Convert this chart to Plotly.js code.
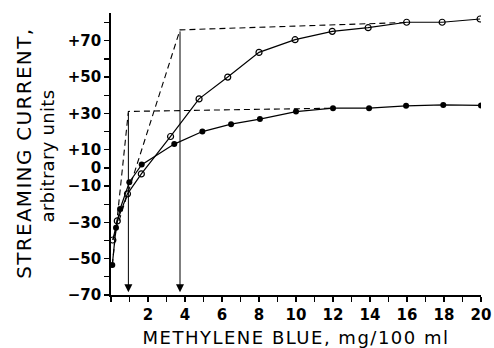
<!DOCTYPE html>
<html>
<head>
<meta charset="utf-8">
<script src="https://cdn.plot.ly/plotly-3.0.1.min.js"></script>
<style>
  html, body { margin: 0; padding: 0; background: #fff; }
  #chart { width: 494px; height: 348px; }
  #chart .xtitle { letter-spacing: 1.5px; }
  #chart g.annotation[data-index="2"] text { letter-spacing: 1.3px; }
  #chart g.annotation[data-index="3"] text { letter-spacing: 0.3px; }
</style>
</head>
<body>
<div id="chart"></div>
<script>
// ---- data ----
const openX  = [0.10, 0.34, 0.89, 1.64, 3.22, 4.76, 6.31, 8.0, 9.95, 11.96, 13.9, 15.98, 17.9, 19.95];
const openY  = [-39.7, -29.2, -14.3, -3.3, 17.3, 38.0, 50.0, 63.6, 70.6, 75.2, 77.2, 80.2, 80.2, 82.0];

const filledX = [0.07, 0.27, 0.49, 0.99, 1.66, 3.42, 4.94, 6.49, 8.05, 10.0, 12.0, 13.95, 15.95, 17.96, 20.0];
const filledY = [-53.5, -32.9, -22.6, -7.9, 1.8, 13.1, 20.0, 24.1, 26.9, 31.0, 32.9, 32.9, 34.2, 34.7, 34.4];

// dashed construction lines (tangent + plateau)
const openTangentX = [0.10, 3.73, 16.0];
const openTangentY = [-39.7, 76.0, 80.1];
const filledTangentX = [0.07, 0.94, 12.0];
const filledTangentY = [-53.5, 31.1, 32.9];

// vertical arrows marking the intersections
const arrowX = [0.94, 3.73];
const arrowTopY = [31.1, 76.0];
const arrowBottomY = -70;

// axis ticks
const yTickVals = [-70, -60, -50, -40, -30, -20, -10, 0, 10, 20, 30, 40, 50, 60, 70, 80];
const yTickText = ['\u221270', '', '\u221250', '', '\u221230', '', '\u221210', '0', '+10', '', '+30', '', '+50', '', '+70', ''];
const xTickVals = [0,1,2,3,4,5,6,7,8,9,10,11,12,13,14,15,16,17,18,19,20];
const xTickText = ['', '', '2', '', '4', '', '6', '', '8', '', '10', '', '12', '', '14', '', '16', '', '18', '', '20'];

const xTitle = 'METHYLENE BLUE, mg/100 ml';
const yTitle1 = 'STREAMING CURRENT,';
const yTitle2 = 'arbitrary units';

// ---- traces ----
const traces = [
  { x: openTangentX, y: openTangentY, mode: 'lines', type: 'scatter',
    line: { color: '#000', width: 1.1, dash: '6px,4px' }, hoverinfo: 'skip', showlegend: false },
  { x: filledTangentX, y: filledTangentY, mode: 'lines', type: 'scatter',
    line: { color: '#000', width: 1.1, dash: '6px,4px' }, hoverinfo: 'skip', showlegend: false },
  { x: openX, y: openY, mode: 'lines+markers', type: 'scatter',
    line: { color: '#000', width: 1.2 },
    marker: { symbol: 'circle-open', size: 6, color: '#000', line: { color: '#000', width: 1.2 } },
    showlegend: false },
  { x: filledX, y: filledY, mode: 'lines+markers', type: 'scatter',
    line: { color: '#000', width: 1.2 },
    marker: { symbol: 'circle', size: 6, color: '#000' },
    showlegend: false }
];

const annotations = arrowX.map((xv, i) => ({
  x: xv, y: arrowBottomY + 1.5, ax: xv, ay: arrowTopY[i],
  xref: 'x', yref: 'y', axref: 'x', ayref: 'y',
  text: '', showarrow: true, arrowhead: 2, arrowsize: 1.6, arrowwidth: 1, arrowcolor: '#000', standoff: 0
}));

annotations.push({
  xref: 'paper', yref: 'paper', x: -0.235, y: 0.5035, xanchor: 'center', yanchor: 'middle',
  text: yTitle1, showarrow: false, textangle: -90,
  font: { family: 'DejaVu Sans', size: 20, color: '#000' }
});
annotations.push({
  xref: 'paper', yref: 'paper', x: -0.171, y: 0.491, xanchor: 'center', yanchor: 'middle',
  text: yTitle2, showarrow: false, textangle: -90,
  font: { family: 'DejaVu Sans', size: 18, color: '#000' }
});

const layout = {
  width: 494, height: 348,
  margin: { l: 111, r: 13, t: 13, b: 53 },
  paper_bgcolor: '#fff', plot_bgcolor: '#fff',
  showlegend: false,
  xaxis: {
    range: [0, 20], showgrid: false, zeroline: false,
    showline: true, linecolor: '#000', linewidth: 1.8,
    tickmode: 'array', tickvals: xTickVals, ticktext: xTickText,
    ticks: 'outside', ticklen: 5, tickwidth: 1.3, tickcolor: '#000',
    tickfont: { family: 'DejaVu Sans', size: 15, color: '#000', weight: 'bold' },
    title: { text: xTitle, font: { family: 'DejaVu Sans', size: 18, color: '#000' }, standoff: 9 }
  },
  yaxis: {
    range: [-70, 85.3], showgrid: false, zeroline: false,
    showline: true, linecolor: '#000', linewidth: 1.8,
    tickmode: 'array', tickvals: yTickVals, ticktext: yTickText,
    ticks: 'outside', ticklen: 5, tickwidth: 1.3, tickcolor: '#000',
    tickfont: { family: 'DejaVu Sans', size: 15, color: '#000', weight: 'bold' }
  },
  annotations: annotations
};

Plotly.newPlot('chart', traces, layout, { staticPlot: true, displayModeBar: false });
</script>
</body>
</html>
